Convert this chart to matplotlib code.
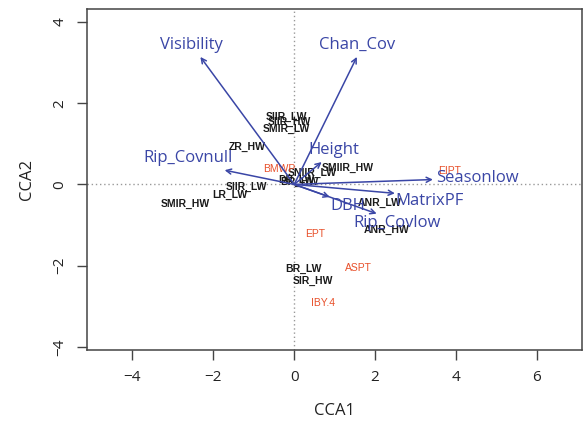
import numpy as np
import matplotlib
matplotlib.use("Agg")
import matplotlib.pyplot as plt

plt.rcParams['font.family'] = ['Open Sans', 'DejaVu Sans']

# environmental vectors (biplot arrows): tip and label positions
env_names = ["Visibility", "Chan_Cov", "Height", "Rip_Covnull",
             "Seasonlow", "MatrixPF", "DBH", "Rip_Covlow"]
env_x = [-2.32, 1.55, 0.68, -1.72, 3.43, 2.49, 0.88, 2.04]
env_y = [3.14, 3.14, 0.55, 0.35, 0.12, -0.22, -0.31, -0.72]
env_lab_x = [-2.55, 1.55, 0.98, -2.63, 4.53, 3.36, 1.33, 2.54]
env_lab_y = [3.43, 3.43, 0.84, 0.64, 0.15, -0.40, -0.52, -0.94]

# species / site labels
sp_names = ["SIIR_LW", "SIIR_HW", "SMIR_LW", "ZR_HW", "SMIIR_HW",
            "SNIIR_LW", "DR_LW", "BR_HW", "SIIR_LW", "LR_LW", "SMIR_HW",
            "ANR_LW", "ANR_HW", "BR_LW", "SIR_HW"]
sp_x = [-0.19, -0.12, -0.19, -1.15, 1.33, 0.45, 0.05, 0.12, -1.18, -1.59,
        -2.70, 2.12, 2.29, 0.22, 0.47]
sp_y = [1.67, 1.53, 1.36, 0.92, 0.40, 0.28, 0.10, 0.05, -0.07, -0.27,
        -0.48, -0.46, -1.12, -2.08, -2.37]

# invertebrate metrics (red labels)
met_names = ["BMWP", "EIPT", "EPT", "ASPT", "IBY.4"]
met_x = [-0.38, 3.85, 0.51, 1.58, 0.72]
met_y = [0.37, 0.33, -1.23, -2.06, -2.91]

blue = "#3a46a6"
red = "#e8502a"
small_font = ["Liberation Sans", "DejaVu Sans"]

fig = plt.figure(figsize=(5.85, 4.29), dpi=100)
ax = fig.add_axes([0.149, 0.184, 0.846, 0.795])

ax.axhline(0, color="#999999", linestyle=(0, (1, 2)), linewidth=1)
ax.axvline(0, color="#999999", linestyle=(0, (1, 2)), linewidth=1)

for n, x, y in zip(sp_names, sp_x, sp_y):
    ax.text(x, y, n, fontsize=7.5, color="#1a1a1a", ha="center",
            va="center", family=small_font, fontweight="bold")
for n, x, y in zip(met_names, met_x, met_y):
    ax.text(x, y, n, fontsize=7.5, color=red, ha="center", va="center",
            family=small_font)

for n, x, y, lx, ly in zip(env_names, env_x, env_y, env_lab_x, env_lab_y):
    ax.annotate("", xy=(x, y), xytext=(0, 0),
                arrowprops=dict(arrowstyle="->", color=blue, lw=1.1,
                                shrinkA=0, shrinkB=0, mutation_scale=9))
    ax.text(lx, ly, n, fontsize=12, color=blue, ha="center", va="center")

ax.set_xlim(-5.12, 7.12)
ax.set_ylim(-4.08, 4.32)
ax.set_xticks([-4, -2, 0, 2, 4, 6])
ax.set_yticks([-4, -2, 0, 2, 4])
ax.set_xticklabels(["\u22124", "\u22122", "0", "2", "4", "6"])
ax.set_yticklabels(["\u22124", "\u22122", "0", "2", "4"], rotation=90,
                   va="center")
ax.tick_params(direction="out", length=7, width=1, color="#444444",
               labelsize=11, pad=7, labelcolor="#222222")
for s in ax.spines.values():
    s.set_color("#444444")
    s.set_linewidth(1.1)

ax.set_xlabel("CCA1", fontsize=12, color="#222222", labelpad=13)
ax.set_ylabel("CCA2", fontsize=12, color="#222222", labelpad=13)

fig.savefig("out.png", dpi=100)
